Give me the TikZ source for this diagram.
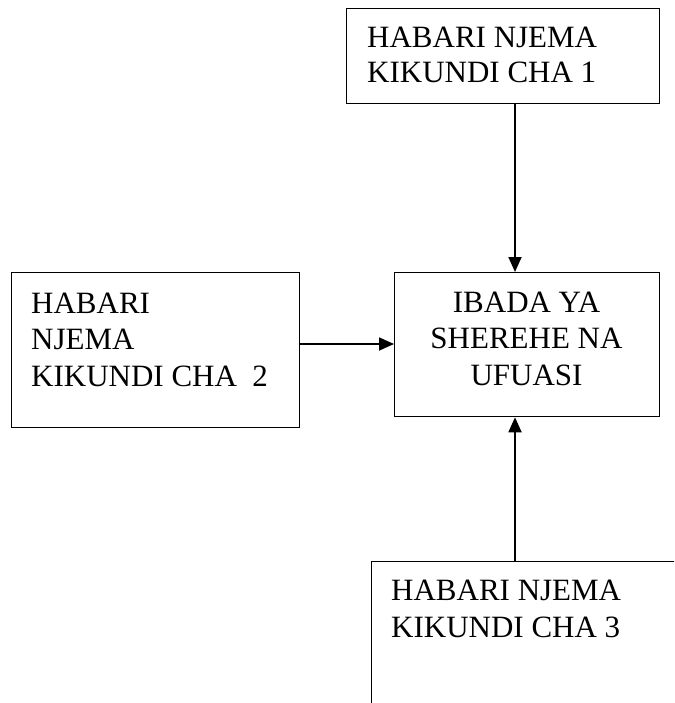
\documentclass[tikz,border=0pt]{standalone}
\usepackage{fontspec}
\setmainfont{Liberation Serif}
\usetikzlibrary{arrows.meta}
\tikzset{
  boxnode/.style={draw=black, line width=1.3pt, rectangle, inner sep=0pt, anchor=north west},
  txt/.style={inner sep=0pt, anchor=base west},
  arr/.style={line width=1.8pt, -{Triangle[length=15pt,width=13pt]}}
}
\newcommand{\bigtxt}[1]{\fontsize{31}{#1}\selectfont}
\begin{document}
\begin{tikzpicture}[x=1pt,y=-1pt]
\useasboundingbox (0,0) rectangle (674,703);
\clip (0,0) rectangle (674,703);
% boxes
\node[boxnode, minimum width=313pt, minimum height=95pt] (box1) at (346,8) {};
\node[boxnode, minimum width=288pt, minimum height=155pt] (box2) at (11,272) {};
\node[boxnode, minimum width=265pt, minimum height=144pt] (center) at (394,272) {};
\node[boxnode, minimum width=340pt, minimum height=180pt] (box3) at (371,561) {};
% texts
\node[txt] (t1) at (367,48) {\bigtxt{35pt}\begin{tabular}[t]{@{}l@{}}HABARI NJEMA\\KIKUNDI CHA 1\end{tabular}};
\node[txt] (t2) at (31,313) {\bigtxt{36.5pt}\begin{tabular}[t]{@{}l@{}}HABARI\\NJEMA\\KIKUNDI CHA\ \ 2\end{tabular}};
\node[inner sep=0pt, anchor=base] (tc) at (526.5,312) {\bigtxt{36.5pt}\begin{tabular}[t]{@{}c@{}}IBADA YA\\SHEREHE NA\\UFUASI\end{tabular}};
\node[txt] (t3) at (391,600) {\bigtxt{37pt}\begin{tabular}[t]{@{}l@{}}HABARI NJEMA\\KIKUNDI CHA 3\end{tabular}};
% connectors
\coordinate (ax) at (515,0);
\coordinate (ay) at (0,344);
\draw[arr] (box1.south -| ax) -- (center.north -| ax);
\draw[arr] (box2.east |- ay) -- (center.west |- ay);
\draw[arr] (box3.north -| ax) -- (center.south -| ax);
\end{tikzpicture}
\end{document}
